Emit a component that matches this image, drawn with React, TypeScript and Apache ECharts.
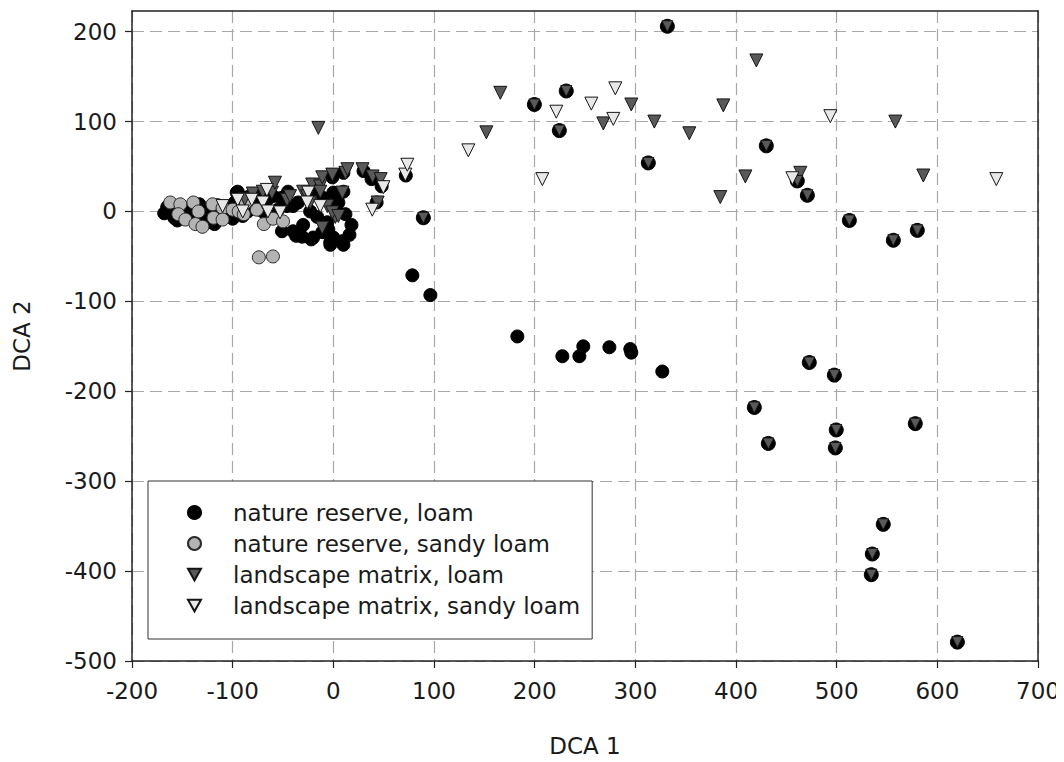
import React, { useEffect, useRef } from "react";
import * as echarts from "echarts";

// Tick values
const xTicks = [-200, -100, 0, 100, 200, 300, 400, 500, 600, 700];
const yTicks = [-500, -400, -300, -200, -100, 0, 100, 200];

const seriesNames = [
  "nature reserve, loam",
  "nature reserve, sandy loam",
  "landscape matrix, loam",
  "landscape matrix, sandy loam",
];

// nature reserve, loam (black circles)
const reserveLoam: [number, number][] = [
  [-168, -2], [-165, 5], [-161, 8], [-158, -7], [-155, -10], [-150, 0], [-145, -5],
  [-143, 2], [-140, 6], [-138, -10], [-133, 8], [-128, -7], [-125, -12], [-123, 2],
  [-118, -14], [-115, 7], [-112, -8], [-108, -3], [-105, 2], [-100, -8], [-98, 10],
  [-96, 21], [-95, 22], [-93, 8], [-90, -5], [-85, 16], [-85, 0], [-82, 5], [-78, 18],
  [-75, 8], [-70, 0], [-68, 5], [-65, 14], [-60, 17], [-55, 2], [-52, 15], [-46, 6],
  [-45, 22], [-40, 6], [-35, 10],
  [-51, -22], [-40, -22], [-37, -27], [-31, -28], [-22, -31], [-20, -29], [-11, -23],
  [-3, -34], [0, -29], [9, -33], [16, -26], [-23, 0], [-16, -6], [-6, -12], [5, 10],
  [0, 21], [10, 22], [-20, 22], [-3, -37], [10, -37], [-30, -15], [-5, -20], [18, -15],
  [-10, 15], [3, 3], [12, -3], [-1, 38], [10, 43], [30, 45], [43, 10], [38, 36],
  [48, 28], [72, 40],
  [78.5, -71], [96.4, -93], [182.8, -139], [227.5, -161], [244.4, -161], [248.3, -150],
  [274.2, -151], [295, -153], [296, -157], [326.8, -178],
];

// points where a black circle and a dark triangle coincide
const overlapLoam: [number, number][] = [
  [331.8, 206], [199.7, 119], [231.4, 134], [224.5, 90], [312.9, 54], [89.4, -7],
  [430.1, 73], [460.9, 34], [470.9, 18], [512.6, -10], [556.3, -32], [580.1, -21],
  [472.8, -168], [497.7, -182], [418.2, -218], [432.1, -258], [499.6, -243],
  [498.7, -263], [578.1, -236], [546.3, -348], [535.4, -381], [534.4, -404],
  [619.9, -479],
];

// nature reserve, sandy loam (grey circles)
const reserveSandy: [number, number][] = [
  [-162, 10], [-152, 8], [-154, -3], [-147, -9], [-139, 10], [-134, 0], [-137, -14],
  [-130, -17], [-120, 8], [-119, -7], [-110, 4], [-110, -9], [-100, 2], [-94, 0],
  [-89, -3], [-87, 10], [-76, 2], [-69, -14], [-60, -8], [-50, -11], [-74, -51],
  [-60, -50],
];

// landscape matrix, loam (dark triangles)
const matrixLoam: [number, number][] = [
  [-88, 14], [-80, 20], [-70, 22], [-61, 21], [-58, 32], [-46, 13], [-43, 17],
  [-30, 22], [-26, 17], [-21, 30], [-13, 28], [-13, 22], [-11, 38], [-1, 41],
  [12, 43], [14, 47], [29, 47], [39, 39], [47, 36], [-23, 10], [-6, 6], [2, -6],
  [-11, -18], [-1, -1], [5, -5], [44, 10], [9, 21], [-14.9, 93],
  [165.9, 132], [152, 88], [296, 119], [268.2, 98], [318.9, 100], [353.6, 87],
  [420.2, 168], [387.4, 118], [409.3, 39], [384.4, 16], [558.3, 100], [586.1, 40],
  [463.9, 43],
];

// landscape matrix, sandy loam (light triangles)
const matrixSandy: [number, number][] = [
  [-110, 6], [-95, 13], [-90, 0], [-81, 13], [-70, 10], [-66, 24], [-65, 0],
  [-53, -1], [-25, 21], [-26, 10], [-13, 6], [38.7, 2], [49.7, 27], [71.5, 41],
  [73.5, 52],
  [134.1, 68], [207.6, 36], [221.5, 111], [256.3, 120], [280.1, 137], [278.1, 103],
  [493.7, 106], [658.6, 36], [456, 37],
];

const FONT = "DejaVu Sans";
const TXT = "#1a1a1a";
const DOWN_TRI = "path://M0,0L20,0L10,18Z";

export default function App() {
  const ref = useRef<HTMLDivElement>(null);
  useEffect(() => {
    if (!ref.current) return;
    const chart = echarts.init(ref.current, undefined, { renderer: "svg" });
    const gridLine = { show: true, lineStyle: { color: "#a8a8a8", type: [12, 6] as any, width: 1.2 } };
    chart.setOption({
      animation: false,
      backgroundColor: "#fff",
      textStyle: { fontFamily: FONT },
      grid: { left: 132, right: 26, top: 11, bottom: 100, containLabel: false },
      legend: {
        orient: "vertical",
        left: 148,
        top: 481,
        padding: [20, 12, 22, 39],
        itemWidth: 13,
        itemHeight: 13,
        itemGap: 8,
        backgroundColor: "#fff",
        borderColor: "#333",
        borderWidth: 1,
        borderRadius: 0,
        textStyle: { fontFamily: FONT, fontSize: 23, color: TXT, padding: [0, 0, 0, 27] },
        data: [
          { name: seriesNames[0], icon: "circle" },
          { name: seriesNames[1], icon: "circle" },
          { name: seriesNames[2], icon: DOWN_TRI },
          { name: seriesNames[3], icon: DOWN_TRI },
        ],
      },
      xAxis: [
        {
          type: "value",
          min: -200,
          max: 700,
          interval: 100,
          name: "DCA 1",
          nameLocation: "middle",
          nameGap: 73,
          nameTextStyle: { fontFamily: FONT, fontSize: 23, color: TXT },
          axisLine: { show: true, onZero: false, lineStyle: { color: "#222", width: 1.5 } },
          axisTick: { show: true, inside: false, length: 7, lineStyle: { color: "#222", width: 1.2 } },
          axisLabel: {
            margin: 18,
            fontFamily: FONT,
            fontSize: 23,
            color: TXT,
            formatter: (v: number) => (xTicks.includes(v) ? String(v) : ""),
          },
          splitLine: gridLine,
        },
        {
          type: "value",
          position: "top",
          min: -200,
          max: 700,
          z: 5,
          axisLine: { show: true, onZero: false, lineStyle: { color: "#222", width: 1.5 } },
          axisTick: { show: false },
          axisLabel: { show: false },
          splitLine: { show: false },
        },
      ],
      yAxis: [
        {
          type: "value",
          min: -500,
          max: 223,
          interval: 100,
          name: "DCA 2",
          nameLocation: "middle",
          nameGap: 99,
          nameTextStyle: { fontFamily: FONT, fontSize: 23, color: TXT },
          axisLine: { show: true, onZero: false, lineStyle: { color: "#222", width: 1.5 } },
          axisTick: {
            show: true,
            inside: false,
            length: 7,
            lineStyle: { color: "#222", width: 1.2 },
            customValues: yTicks,
          },
          axisLabel: {
            margin: 15,
            fontFamily: FONT,
            fontSize: 23,
            color: TXT,
            showMaxLabel: false,
            formatter: (v: number) => (yTicks.includes(v) ? String(v) : ""),
          },
          splitLine: gridLine,
        },
        {
          type: "value",
          position: "right",
          min: -500,
          max: 223,
          z: 5,
          axisLine: { show: true, onZero: false, lineStyle: { color: "#222", width: 1.5 } },
          axisTick: { show: false },
          axisLabel: { show: false },
          splitLine: { show: false },
        },
      ],
      series: [
        {
          name: seriesNames[0],
          type: "scatter",
          symbol: "circle",
          symbolSize: 13,
          itemStyle: { color: "#000", borderColor: "#000", borderWidth: 1, opacity: 1 },
          data: [...reserveLoam, ...overlapLoam.map((p) => ({ value: p, symbolSize: 14 }))],
          z: 2,
        },
        {
          name: seriesNames[1],
          type: "scatter",
          symbol: "circle",
          symbolSize: 13,
          itemStyle: { color: "#b3b3b3", borderColor: "#2a2a2a", borderWidth: 1, opacity: 1 },
          data: reserveSandy,
          z: 3,
        },
        {
          name: seriesNames[2],
          type: "scatter",
          symbol: "triangle",
          symbolRotate: 180,
          symbolSize: 13,
          itemStyle: { color: "#595959", borderColor: "#151515", borderWidth: 1, opacity: 1 },
          data: [
            ...matrixLoam,
            ...overlapLoam.map((p) => ({ value: p, symbolSize: 11 })),
          ],
          z: 4,
        },
        {
          name: seriesNames[3],
          type: "scatter",
          symbol: "triangle",
          symbolRotate: 180,
          symbolSize: 13,
          itemStyle: { color: "#e8e8e8", borderColor: "#151515", borderWidth: 1, opacity: 1 },
          data: matrixSandy,
          z: 4,
        },
      ],
    });
    return () => chart.dispose();
  }, []);
  return <div ref={ref} style={{ width: 1064, height: 762, margin: -8 }} />;
}
